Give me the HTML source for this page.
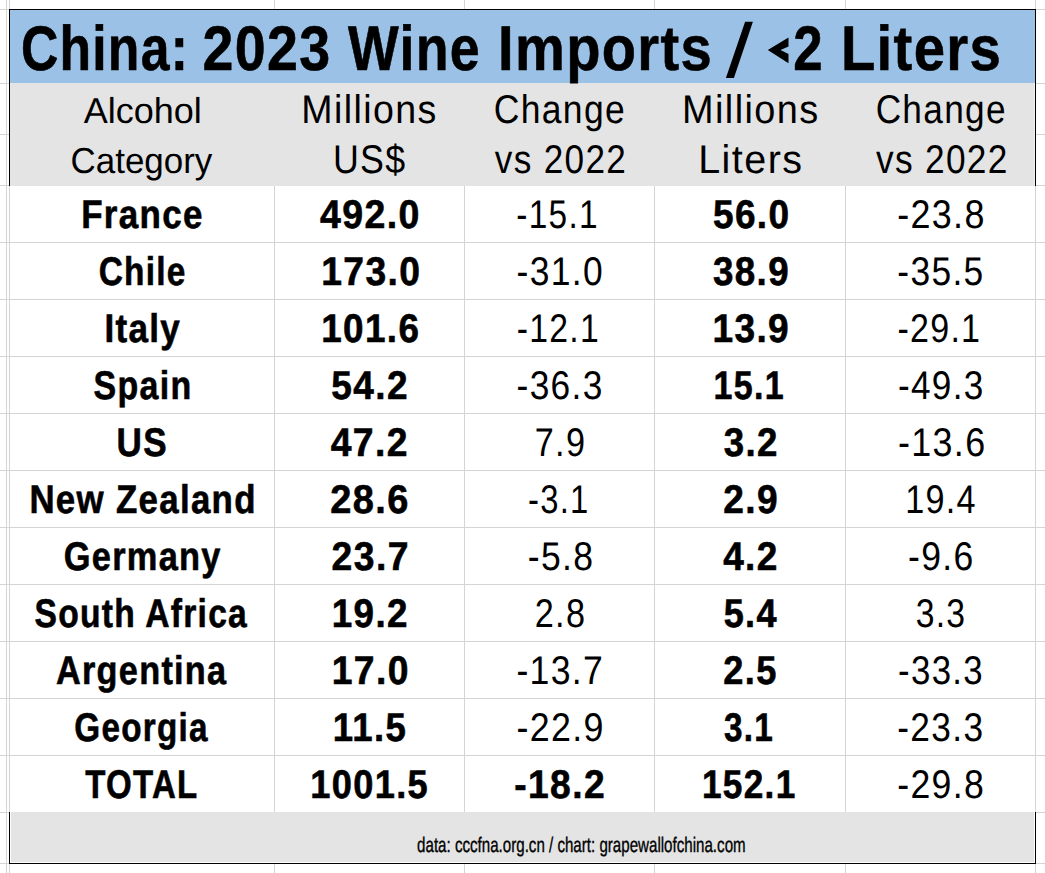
<!DOCTYPE html>
<html><head><meta charset="utf-8"><title>China: 2023 Wine Imports</title>
<style>
html,body{margin:0;padding:0;background:#fff;}
body{width:1045px;height:873px;overflow:hidden;}
svg{display:block;}
text{font-family:"Liberation Sans", sans-serif;fill:#000;}
</style></head><body>
<svg width="1045" height="873" viewBox="0 0 1045 873" shape-rendering="crispEdges">
<rect x="6" y="0" width="1" height="873" fill="#D4D4D4"/>
<rect x="9" y="0" width="1" height="873" fill="#D4D4D4"/>
<rect x="274" y="0" width="1" height="873" fill="#D4D4D4"/>
<rect x="464" y="0" width="1" height="873" fill="#D4D4D4"/>
<rect x="654" y="0" width="1" height="873" fill="#D4D4D4"/>
<rect x="845" y="0" width="1" height="873" fill="#D4D4D4"/>
<rect x="1035" y="0" width="1" height="873" fill="#D4D4D4"/>
<rect x="0" y="9" width="1045" height="1" fill="#D4D4D4"/>
<rect x="0" y="83" width="1045" height="1" fill="#D4D4D4"/>
<rect x="0" y="134" width="1045" height="1" fill="#D4D4D4"/>
<rect x="0" y="185" width="1045" height="1" fill="#D4D4D4"/>
<rect x="0" y="242" width="1045" height="1" fill="#D4D4D4"/>
<rect x="0" y="299" width="1045" height="1" fill="#D4D4D4"/>
<rect x="0" y="356" width="1045" height="1" fill="#D4D4D4"/>
<rect x="0" y="413" width="1045" height="1" fill="#D4D4D4"/>
<rect x="0" y="470" width="1045" height="1" fill="#D4D4D4"/>
<rect x="0" y="527" width="1045" height="1" fill="#D4D4D4"/>
<rect x="0" y="584" width="1045" height="1" fill="#D4D4D4"/>
<rect x="0" y="641" width="1045" height="1" fill="#D4D4D4"/>
<rect x="0" y="698" width="1045" height="1" fill="#D4D4D4"/>
<rect x="0" y="755" width="1045" height="1" fill="#D4D4D4"/>
<rect x="0" y="812" width="1045" height="1" fill="#D4D4D4"/>
<rect x="0" y="863" width="1045" height="1" fill="#D4D4D4"/>
<rect x="10" y="10" width="1025" height="73" fill="#9BC2E6"/>
<rect x="10" y="83" width="1024" height="103" fill="#E4E4E4"/>
<rect x="1034" y="83" width="1" height="103" fill="#F2F2F2"/>
<rect x="10" y="812" width="1025" height="51" fill="#FFFFFF"/>
<rect x="11" y="812" width="1023" height="50" fill="#E4E4E4"/>
<rect x="9" y="9" width="1027" height="1" fill="#000"/>
<rect x="9" y="9" width="1" height="177" fill="#000"/>
<rect x="1035" y="9" width="1" height="177" fill="#000"/>
<rect x="9" y="812" width="1" height="52" fill="#000"/>
<rect x="1035" y="812" width="1" height="52" fill="#000"/>
<rect x="9" y="863" width="1027" height="1" fill="#000"/>
<g shape-rendering="auto" text-rendering="geometricPrecision">
<text transform="translate(105.00 70.00) scale(0.8203 1)" font-size="63" font-weight="bold" letter-spacing="1.5" stroke="#000" stroke-width="0.6" text-anchor="middle">China:</text>
<text transform="translate(267.00 70.00) scale(0.8820 1)" font-size="63" font-weight="bold" letter-spacing="1.5" stroke="#000" stroke-width="0.6" text-anchor="middle">2023</text>
<text transform="translate(414.50 70.00) scale(0.8523 1)" font-size="63" font-weight="bold" letter-spacing="1.5" stroke="#000" stroke-width="0.6" text-anchor="middle">Wine</text>
<text transform="translate(605.50 70.00) scale(0.8899 1)" font-size="63" font-weight="bold" letter-spacing="1.5" stroke="#000" stroke-width="0.6" text-anchor="middle">Imports</text>
<text transform="translate(808.50 70.00) scale(0.8392 1)" font-size="63" font-weight="bold" letter-spacing="1.5" stroke="#000" stroke-width="0.6" text-anchor="middle">2</text>
<text transform="translate(921.50 70.00) scale(0.8930 1)" font-size="63" font-weight="bold" letter-spacing="1.5" stroke="#000" stroke-width="0.6" text-anchor="middle">Liters</text>
<text transform="translate(142.70 123.00) scale(0.9997 1)" font-size="36" font-weight="normal" text-anchor="middle">Alcohol</text>
<text transform="translate(141.40 173.00) scale(0.9707 1)" font-size="36" font-weight="normal" text-anchor="middle">Category</text>
<text transform="translate(369.50 123.00) scale(0.9380 1)" font-size="40" font-weight="normal" letter-spacing="1.5" text-anchor="middle">Millions</text>
<text transform="translate(369.75 173.00) scale(0.8947 1)" font-size="40" font-weight="normal" letter-spacing="1.5" text-anchor="middle">US$</text>
<text transform="translate(559.90 123.00) scale(0.8864 1)" font-size="40" font-weight="normal" letter-spacing="1.5" text-anchor="middle">Change</text>
<text transform="translate(561.00 173.00) scale(0.8790 1)" font-size="40" font-weight="normal" letter-spacing="1.5" text-anchor="middle">vs 2022</text>
<text transform="translate(750.85 123.00) scale(0.9476 1)" font-size="40" font-weight="normal" letter-spacing="1.5" text-anchor="middle">Millions</text>
<text transform="translate(750.85 173.00) scale(0.9867 1)" font-size="40" font-weight="normal" letter-spacing="1.5" text-anchor="middle">Liters</text>
<text transform="translate(941.25 123.00) scale(0.8801 1)" font-size="40" font-weight="normal" letter-spacing="1.5" text-anchor="middle">Change</text>
<text transform="translate(942.35 173.00) scale(0.8815 1)" font-size="40" font-weight="normal" letter-spacing="1.5" text-anchor="middle">vs 2022</text>
<text transform="translate(142.40 228.00) scale(0.8738 1)" font-size="40" font-weight="bold" letter-spacing="1.5" stroke="#000" stroke-width="0.6" text-anchor="middle">France</text>
<text transform="translate(370.35 228.00) scale(0.9373 1)" font-size="40" font-weight="bold" letter-spacing="1.5" stroke="#000" stroke-width="0.6" text-anchor="middle">492.0</text>
<text transform="translate(557.55 228.00) scale(0.8352 1)" font-size="40" font-weight="normal" letter-spacing="1.5" text-anchor="middle">-15.1</text>
<text transform="translate(751.70 228.00) scale(0.9250 1)" font-size="40" font-weight="bold" letter-spacing="1.5" stroke="#000" stroke-width="0.6" text-anchor="middle">56.0</text>
<text transform="translate(941.45 228.00) scale(0.8977 1)" font-size="40" font-weight="normal" letter-spacing="1.5" text-anchor="middle">-23.8</text>
<text transform="translate(142.60 285.00) scale(0.8346 1)" font-size="40" font-weight="bold" letter-spacing="1.5" stroke="#000" stroke-width="0.6" text-anchor="middle">Chile</text>
<text transform="translate(371.30 285.00) scale(0.9304 1)" font-size="40" font-weight="bold" letter-spacing="1.5" stroke="#000" stroke-width="0.6" text-anchor="middle">173.0</text>
<text transform="translate(560.25 285.00) scale(0.8861 1)" font-size="40" font-weight="normal" letter-spacing="1.5" text-anchor="middle">-31.0</text>
<text transform="translate(751.50 285.00) scale(0.9187 1)" font-size="40" font-weight="bold" letter-spacing="1.5" stroke="#000" stroke-width="0.6" text-anchor="middle">38.9</text>
<text transform="translate(940.90 285.00) scale(0.8843 1)" font-size="40" font-weight="normal" letter-spacing="1.5" text-anchor="middle">-35.5</text>
<text transform="translate(142.80 342.00) scale(0.8773 1)" font-size="40" font-weight="bold" letter-spacing="1.5" stroke="#000" stroke-width="0.6" text-anchor="middle">Italy</text>
<text transform="translate(370.80 342.00) scale(0.9213 1)" font-size="40" font-weight="bold" letter-spacing="1.5" stroke="#000" stroke-width="0.6" text-anchor="middle">101.6</text>
<text transform="translate(558.35 342.00) scale(0.8432 1)" font-size="40" font-weight="normal" letter-spacing="1.5" text-anchor="middle">-12.1</text>
<text transform="translate(751.25 342.00) scale(0.9268 1)" font-size="40" font-weight="bold" letter-spacing="1.5" stroke="#000" stroke-width="0.6" text-anchor="middle">13.9</text>
<text transform="translate(939.35 342.00) scale(0.8494 1)" font-size="40" font-weight="normal" letter-spacing="1.5" text-anchor="middle">-29.1</text>
<text transform="translate(143.00 399.00) scale(0.8485 1)" font-size="40" font-weight="bold" letter-spacing="1.5" stroke="#000" stroke-width="0.6" text-anchor="middle">Spain</text>
<text transform="translate(370.10 399.00) scale(0.9247 1)" font-size="40" font-weight="bold" letter-spacing="1.5" stroke="#000" stroke-width="0.6" text-anchor="middle">54.2</text>
<text transform="translate(560.10 399.00) scale(0.8828 1)" font-size="40" font-weight="normal" letter-spacing="1.5" text-anchor="middle">-36.3</text>
<text transform="translate(749.20 399.00) scale(0.8492 1)" font-size="40" font-weight="bold" letter-spacing="1.5" stroke="#000" stroke-width="0.6" text-anchor="middle">15.1</text>
<text transform="translate(941.30 399.00) scale(0.8775 1)" font-size="40" font-weight="normal" letter-spacing="1.5" text-anchor="middle">-49.3</text>
<text transform="translate(142.25 456.00) scale(0.8773 1)" font-size="40" font-weight="bold" letter-spacing="1.5" stroke="#000" stroke-width="0.6" text-anchor="middle">US</text>
<text transform="translate(369.80 456.00) scale(0.9327 1)" font-size="40" font-weight="bold" letter-spacing="1.5" stroke="#000" stroke-width="0.6" text-anchor="middle">47.2</text>
<text transform="translate(560.50 456.00) scale(0.8559 1)" font-size="40" font-weight="normal" letter-spacing="1.5" text-anchor="middle">7.9</text>
<text transform="translate(751.20 456.00) scale(0.9160 1)" font-size="40" font-weight="bold" letter-spacing="1.5" stroke="#000" stroke-width="0.6" text-anchor="middle">3.2</text>
<text transform="translate(942.20 456.00) scale(0.8963 1)" font-size="40" font-weight="normal" letter-spacing="1.5" text-anchor="middle">-13.6</text>
<text transform="translate(143.10 513.00) scale(0.8713 1)" font-size="40" font-weight="bold" letter-spacing="1.5" stroke="#000" stroke-width="0.6" text-anchor="middle">New Zealand</text>
<text transform="translate(370.00 513.00) scale(0.9489 1)" font-size="40" font-weight="bold" letter-spacing="1.5" stroke="#000" stroke-width="0.6" text-anchor="middle">28.6</text>
<text transform="translate(558.75 513.00) scale(0.8195 1)" font-size="40" font-weight="normal" letter-spacing="1.5" text-anchor="middle">-3.1</text>
<text transform="translate(751.05 513.00) scale(0.9279 1)" font-size="40" font-weight="bold" letter-spacing="1.5" stroke="#000" stroke-width="0.6" text-anchor="middle">2.9</text>
<text transform="translate(941.00 513.00) scale(0.8549 1)" font-size="40" font-weight="normal" letter-spacing="1.5" text-anchor="middle">19.4</text>
<text transform="translate(142.75 570.00) scale(0.8590 1)" font-size="40" font-weight="bold" letter-spacing="1.5" stroke="#000" stroke-width="0.6" text-anchor="middle">Germany</text>
<text transform="translate(370.70 570.00) scale(0.9322 1)" font-size="40" font-weight="bold" letter-spacing="1.5" stroke="#000" stroke-width="0.6" text-anchor="middle">23.7</text>
<text transform="translate(561.00 570.00) scale(0.8882 1)" font-size="40" font-weight="normal" letter-spacing="1.5" text-anchor="middle">-5.8</text>
<text transform="translate(750.95 570.00) scale(0.9248 1)" font-size="40" font-weight="bold" letter-spacing="1.5" stroke="#000" stroke-width="0.6" text-anchor="middle">4.2</text>
<text transform="translate(941.35 570.00) scale(0.8884 1)" font-size="40" font-weight="normal" letter-spacing="1.5" text-anchor="middle">-9.6</text>
<text transform="translate(141.30 627.00) scale(0.8395 1)" font-size="40" font-weight="bold" letter-spacing="1.5" stroke="#000" stroke-width="0.6" text-anchor="middle">South Africa</text>
<text transform="translate(370.30 627.00) scale(0.9201 1)" font-size="40" font-weight="bold" letter-spacing="1.5" stroke="#000" stroke-width="0.6" text-anchor="middle">19.2</text>
<text transform="translate(560.50 627.00) scale(0.8555 1)" font-size="40" font-weight="normal" letter-spacing="1.5" text-anchor="middle">2.8</text>
<text transform="translate(750.75 627.00) scale(0.9024 1)" font-size="40" font-weight="bold" letter-spacing="1.5" stroke="#000" stroke-width="0.6" text-anchor="middle">5.4</text>
<text transform="translate(941.00 627.00) scale(0.8431 1)" font-size="40" font-weight="normal" letter-spacing="1.5" text-anchor="middle">3.3</text>
<text transform="translate(141.70 684.00) scale(0.8565 1)" font-size="40" font-weight="bold" letter-spacing="1.5" stroke="#000" stroke-width="0.6" text-anchor="middle">Argentina</text>
<text transform="translate(370.70 684.00) scale(0.9314 1)" font-size="40" font-weight="bold" letter-spacing="1.5" stroke="#000" stroke-width="0.6" text-anchor="middle">17.0</text>
<text transform="translate(560.30 684.00) scale(0.8893 1)" font-size="40" font-weight="normal" letter-spacing="1.5" text-anchor="middle">-13.7</text>
<text transform="translate(750.50 684.00) scale(0.9054 1)" font-size="40" font-weight="bold" letter-spacing="1.5" stroke="#000" stroke-width="0.6" text-anchor="middle">2.5</text>
<text transform="translate(941.00 684.00) scale(0.8701 1)" font-size="40" font-weight="normal" letter-spacing="1.5" text-anchor="middle">-33.3</text>
<text transform="translate(141.50 741.00) scale(0.8306 1)" font-size="40" font-weight="bold" letter-spacing="1.5" stroke="#000" stroke-width="0.6" text-anchor="middle">Georgia</text>
<text transform="translate(370.00 741.00) scale(0.9145 1)" font-size="40" font-weight="bold" letter-spacing="1.5" stroke="#000" stroke-width="0.6" text-anchor="middle">11.5</text>
<text transform="translate(560.60 741.00) scale(0.8956 1)" font-size="40" font-weight="normal" letter-spacing="1.5" text-anchor="middle">-22.9</text>
<text transform="translate(749.05 741.00) scale(0.8318 1)" font-size="40" font-weight="bold" letter-spacing="1.5" stroke="#000" stroke-width="0.6" text-anchor="middle">3.1</text>
<text transform="translate(940.80 741.00) scale(0.8823 1)" font-size="40" font-weight="normal" letter-spacing="1.5" text-anchor="middle">-23.3</text>
<text transform="translate(141.80 798.00) scale(0.8252 1)" font-size="40" font-weight="bold" letter-spacing="1.5" stroke="#000" stroke-width="0.6" text-anchor="middle">TOTAL</text>
<text transform="translate(369.70 798.00) scale(0.9045 1)" font-size="40" font-weight="bold" letter-spacing="1.5" stroke="#000" stroke-width="0.6" text-anchor="middle">1001.5</text>
<text transform="translate(560.10 798.00) scale(0.9298 1)" font-size="40" font-weight="bold" letter-spacing="1.5" stroke="#000" stroke-width="0.6" text-anchor="middle">-18.2</text>
<text transform="translate(749.20 798.00) scale(0.8795 1)" font-size="40" font-weight="bold" letter-spacing="1.5" stroke="#000" stroke-width="0.6" text-anchor="middle">152.1</text>
<text transform="translate(941.15 798.00) scale(0.8906 1)" font-size="40" font-weight="normal" letter-spacing="1.5" text-anchor="middle">-29.8</text>
<text transform="translate(581.35 852.00) scale(0.7199 1)" font-size="21" font-weight="normal" stroke="#000" stroke-width="0.35" text-anchor="middle">data: cccfna.org.cn / chart: grapewallofchina.com</text>
<polygon points="745.1,21.7 752.9,21.7 733.9,77.9 725.9,77.9" fill="#000"/>
<polygon points="767.8,50.0 788.5,37.4 788.5,46.6 780.5,50.0 788.5,53.9 788.5,63.2" fill="#000"/>
</g>
</svg>
</body></html>
